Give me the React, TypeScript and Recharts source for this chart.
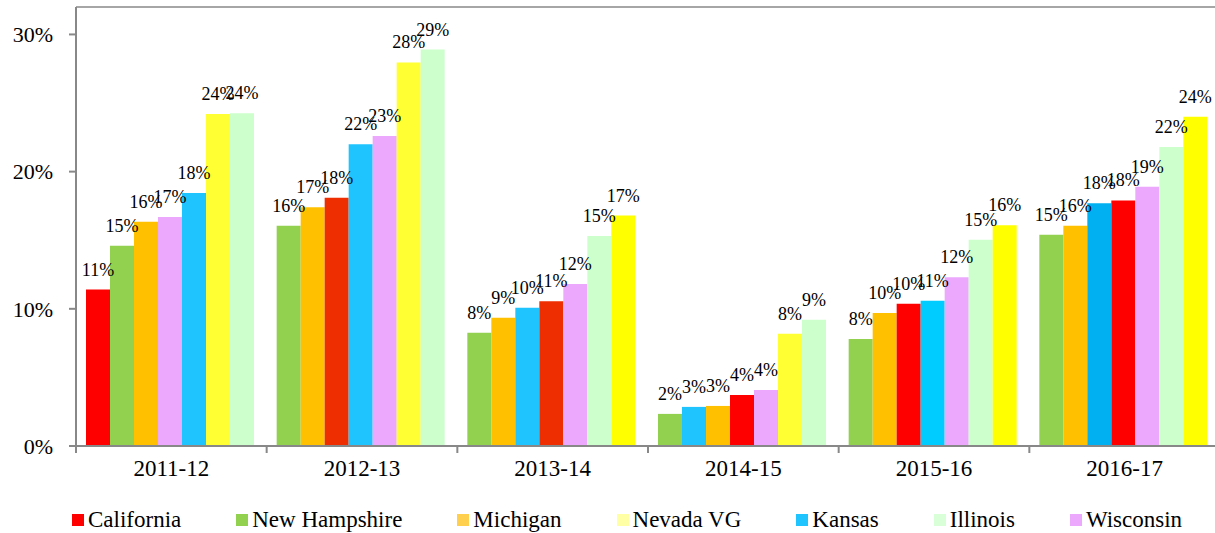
import { BarChart, Bar, XAxis, YAxis, Legend, Cell, LabelList, ReferenceLine } from "recharts";

const years = ["2011-12", "2012-13", "2013-14", "2014-15", "2015-16", "2016-17"];
const states = ["California", "New Hampshire", "Michigan", "Nevada VG", "Kansas", "Illinois", "Wisconsin"];

// percent per year
const california = [11.4, 18.1, 10.55, 3.72, 10.36, 17.9];
const newHampshire = [14.6, 16.06, 8.25, 2.34, 7.8, 15.4];
const michigan = [16.35, 17.4, 9.34, 2.92, 9.7, 16.06];
const nevadaVG = [24.2, 27.96, 16.8, 8.18, 16.1, 24.0];
const kansas = [18.45, 22.0, 10.07, 2.85, 10.58, 17.7];
const illinois = [24.25, 28.9, 15.3, 9.2, 15.04, 21.8];
const wisconsin = [16.7, 22.6, 11.8, 4.09, 12.3, 18.9];

const yTicks = [0, 10, 20, 30];

const seriesByState: Record<string, number[]> = {
  California: california,
  "New Hampshire": newHampshire,
  Michigan: michigan,
  "Nevada VG": nevadaVG,
  Kansas: kansas,
  Illinois: illinois,
  Wisconsin: wisconsin,
};

const colors: Record<string, string> = {
  California: "#FF0000",
  "New Hampshire": "#92D050",
  Michigan: "#FFC000",
  "Nevada VG": "#FFFF33",
  Kansas: "#1FC4FF",
  Illinois: "#CCFFCC",
  Wisconsin: "#EBA8FC",
};

// a few bars in the original use slightly different shades
const shadeOverrides: Record<string, string> = {
  "California|2012-13": "#EE2E00",
  "California|2013-14": "#EE2E00",
  "Kansas|2015-16": "#00CCFF",
  "Kansas|2016-17": "#00B0F0",
  "Nevada VG|2013-14": "#FFFF00",
  "Nevada VG|2015-16": "#FFFF00",
  "Nevada VG|2016-17": "#FFFF00",
};

const legendColors: Record<string, string> = {
  California: "#FF0000",
  "New Hampshire": "#92D050",
  Michigan: "#FFD04D",
  "Nevada VG": "#FFFFA6",
  Kansas: "#1FC4FF",
  Illinois: "#D9FFD9",
  Wisconsin: "#EBA8FC",
};

// each year's bars are drawn in ascending order, so series are ranks, not states
const data = years.map((year, yi) => {
  const sorted = states
    .map((s) => ({ s, v: seriesByState[s][yi] }))
    .sort((a, b) => a.v - b.v);
  const row: Record<string, string | number> = { year };
  sorted.forEach((item, i) => {
    row[`r${i}`] = item.v;
    row[`s${i}`] = item.s;
  });
  return row;
});

const FONT = "'Liberation Serif', 'Times New Roman', serif";
const AXIS = "#888888";
const CHART_W = 1220;
const Y_AXIS_W = 76;
const BAND = (CHART_W - Y_AXIS_W) / years.length;

const XTick = (props: any) => {
  const { x, y, payload } = props;
  const left = x - BAND / 2;
  return (
    <g>
      <line x1={left} x2={left} y1={y} y2={y + 7} stroke={AXIS} strokeWidth={2} />
      <text x={x} y={y + 22} dy="0.35em" textAnchor="middle" fill="#000" fontSize={23} fontFamily={FONT}>
        {payload.value}
      </text>
    </g>
  );
};

const renderLegend = () => (
  <div
    style={{
      display: "flex",
      alignItems: "center",
      height: 40,
      paddingTop: 14,
      paddingLeft: 72,
      boxSizing: "border-box",
      fontFamily: FONT,
      fontSize: 23,
      color: "#000",
    }}
  >
    {states.map((s) => (
      <div key={s} style={{ display: "flex", alignItems: "center", marginRight: 55, whiteSpace: "nowrap" }}>
        <span style={{ width: 12, height: 12, background: legendColors[s], marginRight: 4, display: "inline-block" }} />
        <span>{s}</span>
      </div>
    ))}
  </div>
);

export default function App() {
  return (
    <div style={{ position: "absolute", left: 0, top: 0, width: 1215, height: 533, overflow: "hidden", background: "#fff" }}>
      <BarChart
        width={CHART_W}
        height={533}
        data={data}
        margin={{ top: 7, right: 0, bottom: 0, left: 0 }}
        barCategoryGap={10}
        barGap={0}
      >
        <XAxis
          dataKey="year"
          axisLine={{ stroke: AXIS, strokeWidth: 2 }}
          tickLine={false}
          tickSize={0}
          tickMargin={0}
          height={47}
          tick={<XTick />}
          interval={0}
        />
        <YAxis
          width={Y_AXIS_W}
          domain={[0, 32]}
          ticks={yTicks}
          allowDataOverflow
          axisLine={{ stroke: AXIS, strokeWidth: 2 }}
          tickLine={{ stroke: AXIS, strokeWidth: 2 }}
          tickSize={7}
          tickMargin={16}
          tick={{ fill: "#000", fontSize: 22, fontFamily: FONT }}
          tickFormatter={(v: number) => `${v}%`}
        />
        <ReferenceLine y={32} stroke={AXIS} strokeWidth={1.5} />
        <Legend verticalAlign="bottom" height={40} content={renderLegend} />
        {states.map((_, i) => (
          <Bar key={i} dataKey={`r${i}`} isAnimationActive={false}>
            {data.map((row) => {
              const s = row[`s${i}`] as string;
              const fill = shadeOverrides[`${s}|${row.year}`] ?? colors[s];
              return <Cell key={`${row.year}-${i}`} fill={fill} />;
            })}
            <LabelList
              dataKey={`r${i}`}
              position="top"
              offset={14}
              formatter={(v: any) => `${Math.round(Number(v))}%`}
              style={{ fill: "#000", fontSize: 18, fontFamily: FONT }}
            />
          </Bar>
        ))}
      </BarChart>
    </div>
  );
}
